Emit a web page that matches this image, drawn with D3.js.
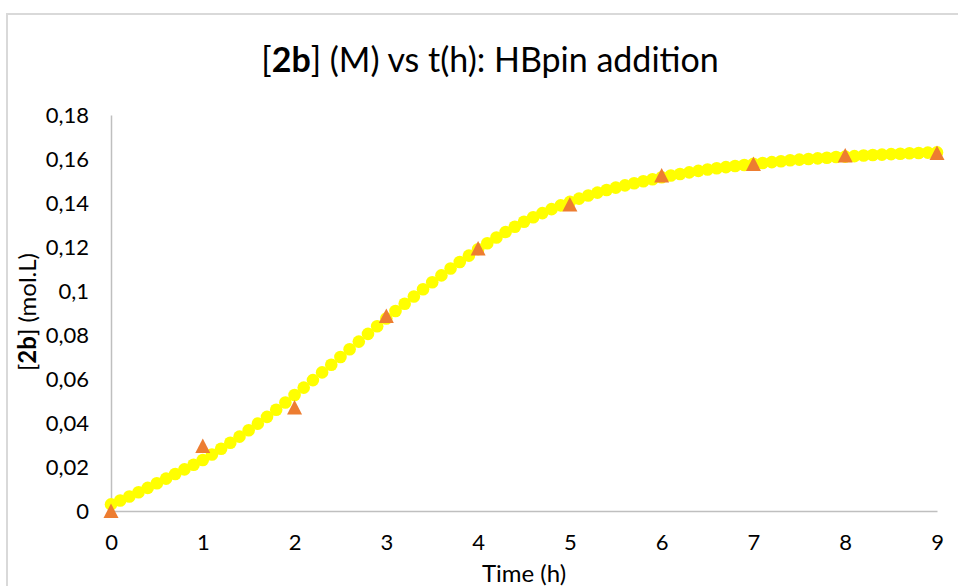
<!DOCTYPE html>
<html>
<head>
<meta charset="utf-8">
<script src="https://cdn.jsdelivr.net/npm/d3@7"></script>
<style>
  html, body { margin: 0; padding: 0; background: #fff; }
  svg { display: block; font-family: Lato, "Open Sans", sans-serif; }
</style>
</head>
<body>
<svg id="chart" width="958" height="586"></svg>
<script>
'use strict';

// measured points (triangles)
var dataTimes = [0, 1, 2, 3, 4, 5, 6, 7, 8, 9];
var dataConc = [0, 0.0295, 0.047, 0.0886, 0.1193, 0.1393, 0.1525, 0.1577, 0.1616, 0.1627];

// fitted curve (yellow dots), read every 0.1 h
var fitTimes = [
  0, 0.1, 0.2, 0.3, 0.4, 0.5, 0.6, 0.7, 0.8, 0.9,
  1, 1.1, 1.2, 1.3, 1.4, 1.5, 1.6, 1.7, 1.8, 1.9,
  2, 2.1, 2.2, 2.3, 2.4, 2.5, 2.6, 2.7, 2.8, 2.9,
  3, 3.1, 3.2, 3.3, 3.4, 3.5, 3.6, 3.7, 3.8, 3.9,
  4, 4.1, 4.2, 4.3, 4.4, 4.5, 4.6, 4.7, 4.8, 4.9,
  5, 5.1, 5.2, 5.3, 5.4, 5.5, 5.6, 5.7, 5.8, 5.9,
  6, 6.1, 6.2, 6.3, 6.4, 6.5, 6.6, 6.7, 6.8, 6.9,
  7, 7.1, 7.2, 7.3, 7.4, 7.5, 7.6, 7.7, 7.8, 7.9,
  8, 8.1, 8.2, 8.3, 8.4, 8.5, 8.6, 8.7, 8.8, 8.9,
  9
];
var fitConc = [
  0.0030, 0.0048, 0.0066, 0.0085, 0.0105, 0.0126, 0.0147, 0.0168, 0.0189, 0.0210,
  0.0232, 0.0257, 0.0283, 0.0310, 0.0338, 0.0367, 0.0397, 0.0428, 0.0460, 0.0493,
  0.0527, 0.0561, 0.0595, 0.0630, 0.0665, 0.0700, 0.0735, 0.0770, 0.0805, 0.0840,
  0.0875, 0.0909, 0.0942, 0.0975, 0.1008, 0.1040, 0.1071, 0.1102, 0.1132, 0.1161,
  0.1190, 0.1217, 0.1243, 0.1268, 0.1292, 0.1315, 0.1335, 0.1354, 0.1372, 0.1389,
  0.1405, 0.1420, 0.1434, 0.1447, 0.1459, 0.1470, 0.1480, 0.1490, 0.1499, 0.1508,
  0.1517, 0.1525, 0.1532, 0.1539, 0.1546, 0.1552, 0.1558, 0.1563, 0.1568, 0.1573,
  0.1578, 0.1582, 0.1586, 0.1590, 0.1594, 0.1597, 0.1600, 0.1603, 0.1606, 0.1609,
  0.1611, 0.1613, 0.1616, 0.1618, 0.1620, 0.1622, 0.1624, 0.1626, 0.1627, 0.1629,
  0.1630
];

var xTicks = [0, 1, 2, 3, 4, 5, 6, 7, 8, 9];
var xTickLabels = ['0', '1', '2', '3', '4', '5', '6', '7', '8', '9'];
var yTicks = [0, 0.02, 0.04, 0.06, 0.08, 0.1, 0.12, 0.14, 0.16, 0.18];
var yTickLabels = ['0', '0,02', '0,04', '0,06', '0,08', '0,1', '0,12', '0,14', '0,16', '0,18'];

var svg = d3.select('#chart');

var x = d3.scaleLinear().domain([0, 9]).range([111, 937]);
var y = d3.scaleLinear().domain([0, 0.18]).range([511, 115]);

// chart area border (runs off the right and bottom edge)
svg.append('rect')
  .attr('x', 7)
  .attr('y', 14)
  .attr('width', 980)
  .attr('height', 620)
  .attr('fill', 'none')
  .attr('stroke', '#d9d9d9')
  .attr('stroke-width', 2);

// title
var title = svg.append('text')
  .attr('x', 490)
  .attr('y', 72)
  .attr('text-anchor', 'middle')
  .attr('font-size', 34)
  .attr('fill', '#000');
title.append('tspan').text('[');
title.append('tspan').attr('font-weight', 'bold').text('2b');
title.append('tspan').text('] (M) vs t(h): HBpin addition');

// axes
var xAxis = d3.axisBottom(x)
  .tickValues(xTicks)
  .tickFormat(function(d, i) { return xTickLabels[i]; })
  .tickSize(0)
  .tickPadding(0);

var yAxis = d3.axisLeft(y)
  .tickValues(yTicks)
  .tickFormat(function(d, i) { return yTickLabels[i]; })
  .tickSize(0)
  .tickPadding(0);

var gx = svg.append('g')
  .attr('transform', 'translate(0,' + y(0) + ')')
  .call(xAxis);
gx.select('.domain').attr('stroke', '#bfbfbf').attr('stroke-width', 1.5);
gx.selectAll('text')
  .attr('y', 39)
  .attr('dy', 0)
  .attr('font-size', 22)
  .attr('font-family', 'Lato, "Open Sans", sans-serif')
  .attr('fill', '#000');

var gy = svg.append('g')
  .attr('transform', 'translate(' + x(0) + ',0)')
  .call(yAxis);
gy.select('.domain').attr('stroke', '#bfbfbf').attr('stroke-width', 1.5);
gy.selectAll('text')
  .attr('x', -22)
  .attr('dy', '0.36em')
  .attr('font-size', 22)
  .attr('font-family', 'Lato, "Open Sans", sans-serif')
  .attr('fill', '#000');

// axis titles
svg.append('text')
  .attr('x', 524)
  .attr('y', 582)
  .attr('text-anchor', 'middle')
  .attr('font-size', 24)
  .attr('fill', '#000')
  .text('Time (h)');

var ylab = svg.append('text')
  .attr('transform', 'translate(36,312) rotate(-90)')
  .attr('text-anchor', 'middle')
  .attr('font-size', 24)
  .attr('fill', '#000');
ylab.append('tspan').text('[');
ylab.append('tspan').attr('font-weight', 'bold').text('2b');
ylab.append('tspan').text('] (mol.L)');

// fitted curve as dense yellow dots
svg.append('g')
  .selectAll('circle')
  .data(fitTimes)
  .join('circle')
  .attr('cx', function(d) { return x(d); })
  .attr('cy', function(d, i) { return y(fitConc[i]); })
  .attr('r', 6.3)
  .attr('fill', '#ffff00');

// measured data as orange triangles
var tri = 'M0,-7.5L7.5,7L-7.5,7Z';
svg.append('g')
  .selectAll('path')
  .data(dataTimes)
  .join('path')
  .attr('d', tri)
  .attr('transform', function(d, i) { return 'translate(' + x(d) + ',' + y(dataConc[i]) + ')'; })
  .attr('fill', '#ed7d31');
</script>
</body>
</html>
